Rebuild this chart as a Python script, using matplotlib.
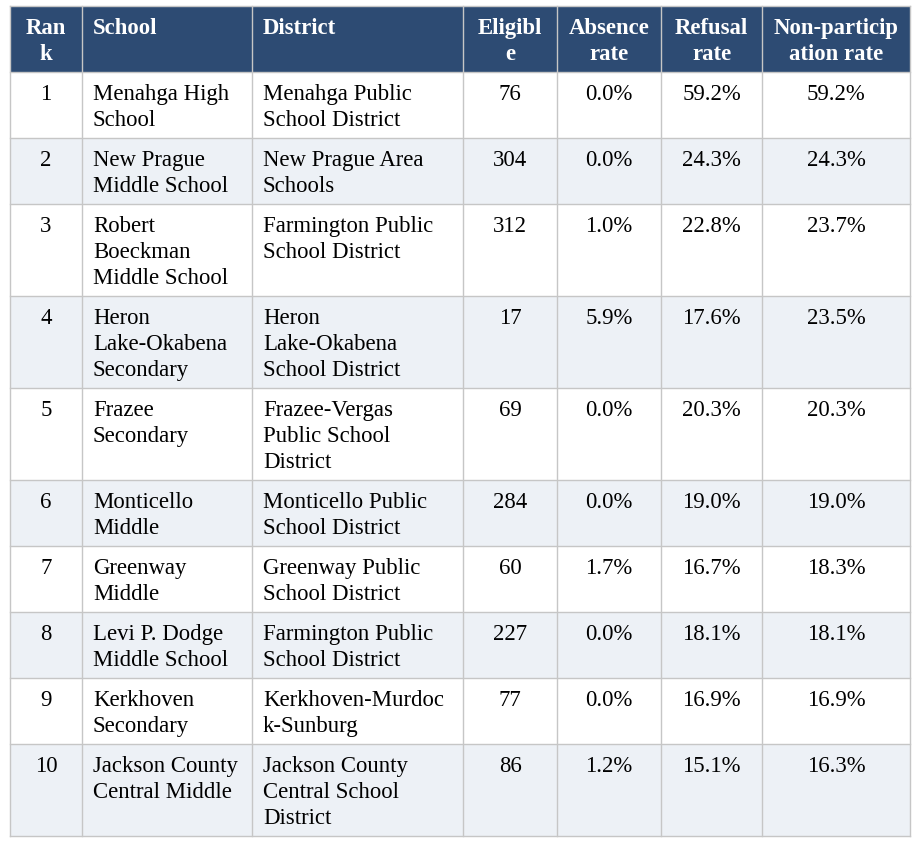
import matplotlib
matplotlib.use("Agg")
import matplotlib.pyplot as plt
from matplotlib.patches import Rectangle

# TABLE CONTENT
headers = ["Ran\nk", "School", "District", "Eligibl\ne", "Absence\nrate", "Refusal\nrate", "Non-particip\nation rate"]
ranks = ["1", "2", "3", "4", "5", "6", "7", "8", "9", "10"]
schools = ["Menahga High\nSchool", "New Prague\nMiddle School", "Robert\nBoeckman\nMiddle School",
           "Heron\nLake-Okabena\nSecondary", "Frazee\nSecondary", "Monticello\nMiddle",
           "Greenway\nMiddle", "Levi P. Dodge\nMiddle School", "Kerkhoven\nSecondary",
           "Jackson County\nCentral Middle"]
districts = ["Menahga Public\nSchool District", "New Prague Area\nSchools", "Farmington Public\nSchool District",
             "Heron\nLake-Okabena\nSchool District", "Frazee-Vergas\nPublic School\nDistrict",
             "Monticello Public\nSchool District", "Greenway Public\nSchool District",
             "Farmington Public\nSchool District", "Kerkhoven-Murdoc\nk-Sunburg",
             "Jackson County\nCentral School\nDistrict"]
eligible = [76, 304, 312, 17, 69, 284, 60, 227, 77, 86]
absence = [0.0, 0.0, 1.0, 5.9, 0.0, 0.0, 1.7, 0.0, 0.0, 1.2]
refusal = [59.2, 24.3, 22.8, 17.6, 20.3, 19.0, 16.7, 18.1, 16.9, 15.1]
nonpart = [59.2, 24.3, 23.7, 23.5, 20.3, 19.0, 18.3, 18.1, 16.9, 16.3]

# LAYOUT (pixels)
W, H = 924, 842
col_edges = [10, 82, 252, 463, 557, 661, 762, 910]
col_align = ["center", "left", "left", "center", "center", "center", "center"]
table_top = 6
line_h = 26
pad = 14
first_base = 28
font = "Liberation Serif"
fsize = 16.4
header_color = "#2d4b73"
stripe_color = "#edf1f6"
grid_color = "#c6c6c6"

rows = []
for i in range(len(ranks)):
    rows.append([ranks[i], schools[i], districts[i], str(eligible[i]),
                 f"{absence[i]:.1f}%", f"{refusal[i]:.1f}%", f"{nonpart[i]:.1f}%"])

fig = plt.figure(figsize=(W / 100, H / 100), dpi=100)
ax = fig.add_axes([0, 0, 1, 1])
ax.set_xlim(0, W)
ax.set_ylim(H, 0)
ax.axis("off")


def draw_row(cells, top, bg, color, weight):
    n_lines = max(c.count("\n") + 1 for c in cells)
    height = n_lines * line_h + pad
    ax.add_patch(Rectangle((col_edges[0], top), col_edges[-1] - col_edges[0], height,
                           facecolor=bg, edgecolor="none", zorder=1))
    for j, cell in enumerate(cells):
        x0, x1 = col_edges[j], col_edges[j + 1]
        if col_align[j] == "center":
            x, ha = (x0 + x1) / 2, "center"
        else:
            x, ha = x0 + 11, "left"
        for k, line in enumerate(cell.split("\n")):
            ax.text(x, top + first_base + k * line_h, line, ha=ha, va="baseline",
                    fontsize=fsize, family=font, color=color, weight=weight, zorder=3)
    return height


y = table_top
row_tops = [y]
y += draw_row(headers, y, header_color, "white", "bold")
row_tops.append(y)
for i, cells in enumerate(rows):
    bg = "white" if i % 2 == 0 else stripe_color
    y += draw_row(cells, y, bg, "black", "normal")
    row_tops.append(y)

# grid lines
for yy in row_tops:
    ax.plot([col_edges[0], col_edges[-1]], [yy, yy], color=grid_color, lw=1.0, zorder=2)
for xx in col_edges:
    ax.plot([xx, xx], [row_tops[0], row_tops[-1]], color=grid_color, lw=1.0, zorder=2)

fig.savefig("out.png", dpi=100)
